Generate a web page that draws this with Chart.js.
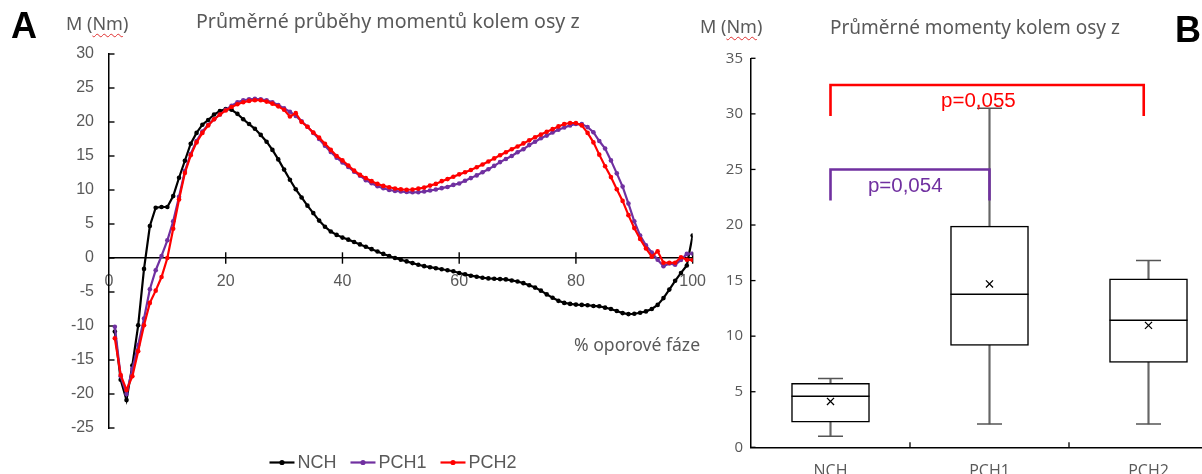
<!DOCTYPE html>
<html lang="cs">
<head>
<meta charset="utf-8">
<title>Momenty kolem osy z</title>
<script src="https://cdn.jsdelivr.net/npm/chart.js@4.4.1/dist/chart.umd.min.js"></script>
<style>
html,body{margin:0;padding:0;background:#fff;overflow:hidden;}
#page{position:relative;width:1202px;height:474px;overflow:hidden;background:#fff;}
canvas{position:absolute;top:0;}
#c1{left:0;}
#c2{left:700px;}
.txt{position:absolute;white-space:nowrap;line-height:1;color:#595959;font-family:"Noto Sans",sans-serif;}
.panel{font-family:"Liberation Sans",Arial,sans-serif;font-weight:bold;color:#000;font-size:36px;}
.sq{text-decoration:underline wavy #e03030;text-decoration-thickness:1px;text-underline-offset:3px;}
</style>
</head>
<body>
<div id="page">
<canvas id="c1" width="720" height="474"></canvas>
<canvas id="c2" width="600" height="495"></canvas>
<div class="txt panel" style="left:11px;top:8px;">A</div>
<div class="txt panel" style="left:1175px;top:12px;">B</div>
<div class="txt" style="left:66px;top:14px;font-size:18px;">M (<span class="sq">Nm</span>)</div>
<div class="txt" style="left:196px;top:11px;font-size:19.6px;">Průměrné průběhy momentů kolem osy z</div>
<div class="txt" style="left:574px;top:336px;font-size:17.6px;">% oporové fáze</div>
<div class="txt" style="left:700px;top:17px;font-size:18px;">M (<span class="sq">Nm</span>)</div>
<div class="txt" style="left:830px;top:18px;font-size:19px;">Průměrné momenty kolem osy z</div>
</div>
<script>
// ---------- Panel A data ----------
const stancePct = [1,2,3,4,5,6,7,8,9,10,11,12,13,14,15,16,17,18,19,20,21,22,23,24,25,26,27,28,29,30,31,32,33,34,35,36,37,38,39,40,41,42,43,44,45,46,47,48,49,50,51,52,53,54,55,56,57,58,59,60,61,62,63,64,65,66,67,68,69,70,71,72,73,74,75,76,77,78,79,80,81,82,83,84,85,86,87,88,89,90,91,92,93,94,95,96,97,98,99,100];
const nch = [-10.8,-17.9,-20.9,-15.8,-9.9,-1.6,4.7,7.4,7.5,7.5,
  9.1,11.8,14.3,16.8,18.4,19.6,20.3,21.1,21.6,21.9,
  21.8,21.2,20.4,19.7,19.0,18.1,17.1,15.9,14.5,13.0,
  11.5,10.1,8.9,7.7,6.6,5.5,4.6,3.9,3.4,3.0,
  2.7,2.35,2.0,1.65,1.3,0.95,0.6,0.3,0.0,-0.25,
  -0.5,-0.75,-1.0,-1.2,-1.35,-1.5,-1.65,-1.8,-1.95,-2.2,
  -2.4,-2.6,-2.75,-2.9,-3.0,-3.05,-3.1,-3.15,-3.3,-3.45,
  -3.7,-4.0,-4.35,-4.8,-5.35,-5.85,-6.3,-6.6,-6.75,-6.85,
  -6.9,-6.95,-7.05,-7.1,-7.3,-7.5,-7.8,-8.1,-8.25,-8.2,
  -8.05,-7.85,-7.5,-6.9,-5.9,-4.65,-3.35,-2.2,-1.1,3.3];
const pch1 = [-10.1,-17.4,-20.0,-16.3,-12.8,-8.9,-4.6,-1.8,0.3,2.6,
  5.4,9.0,12.8,15.3,17.2,18.6,19.6,20.4,21.1,21.8,
  22.4,22.9,23.2,23.35,23.4,23.35,23.2,22.9,22.5,22.0,
  21.5,20.9,20.1,19.3,18.4,17.5,16.5,15.6,14.75,14.05,
  13.4,12.7,12.1,11.45,11.0,10.55,10.25,10.0,9.87,9.78,
  9.7,9.66,9.68,9.78,9.92,10.07,10.27,10.45,10.75,10.95,
  11.35,11.75,12.15,12.6,13.05,13.55,14.1,14.55,15.0,15.55,
  16.0,16.6,17.1,17.6,18.0,18.45,18.85,19.2,19.5,19.7,
  19.7,19.25,18.5,17.2,16.1,14.35,12.45,10.5,8.0,5.4,
  3.3,1.85,0.8,-0.25,-1.2,-0.8,-1.0,-0.3,0.6,0.65];
const pch2 = [-11.8,-17.2,-19.4,-17.4,-13.7,-9.9,-6.6,-4.8,-2.8,0.0,
  4.3,8.6,12.5,15.1,17.0,18.4,19.5,20.4,21.1,21.7,
  22.2,22.6,22.9,23.1,23.2,23.2,23.0,22.7,22.3,21.8,
  20.8,21.3,20.0,19.3,18.45,17.7,16.8,15.9,15.0,14.35,
  13.6,12.85,12.25,11.75,11.3,10.9,10.6,10.4,10.22,10.1,
  10.04,10.07,10.2,10.35,10.65,10.9,11.3,11.6,11.95,12.3,
  12.6,12.95,13.35,13.75,14.2,14.65,15.1,15.55,16.0,16.4,
  16.85,17.3,17.75,18.15,18.55,18.95,19.35,19.7,19.85,19.85,
  19.5,18.4,17.0,15.2,13.5,11.9,10.1,8.4,6.3,4.4,
  2.8,1.4,0.2,1.0,-0.7,-0.7,-0.7,0.1,-0.25,-0.3];
const seriesNames = ['NCH','PCH1','PCH2'];
const seriesColors = ['#000000','#7030a0','#ff0000'];
const xTickValuesA = [0,20,40,60,80,100];
const yRangeA = [-25,30];

// ---------- Panel B data ----------
const groups = ['NCH','PCH1','PCH2'];
const whiskerMin = [1.0,2.1,2.1];
const q1 = [2.25,9.17,7.64];
const median = [4.6,13.76,11.42];
const q3 = [5.75,19.9,15.16];
const whiskerMax = [6.2,30.5,16.8];
const mean = [4.13,14.7,10.97];
const yRangeB = [0,35];
const bracketFrom = [0,0];
const bracketTo = [1,1.97];
const bracketTop = [25.0,32.6];
const bracketLeg = [22.2,29.8];
const bracketText = ['p=0,054','p=0,055'];
const bracketTextX = [0.47,0.93];
const bracketTextY = [23.5,31.1];
const bracketColors = ['#7030a0','#ff0000'];

const GRAY = '#595959';
const ARIAL = '"Liberation Sans", Arial, sans-serif';
Chart.defaults.font.family = ARIAL;

function fitChartArea(chart, pad, target){
  for (let k=0;k<6;k++){
    const a = chart.chartArea;
    const dl = target.left - a.left, dt = target.top - a.top, dr = a.right - target.right, db = a.bottom - target.bottom;
    if (Math.abs(dl)+Math.abs(dt)+Math.abs(dr)+Math.abs(db) < 0.3) break;
    pad.left += dl; pad.top += dt; pad.right += dr; pad.bottom += db;
    chart.update('none');
  }
}

// ---------- Chart A ----------
const marksA = {
  id:'marksA',
  beforeDatasetsDraw(chart){
    const {ctx, chartArea:a, scales:{x,y}} = chart;
    ctx.save();
    ctx.strokeStyle = '#000'; ctx.lineWidth = 1.4;
    y.ticks.forEach(t=>{
      const py = y.getPixelForValue(t.value);
      ctx.beginPath(); ctx.moveTo(a.left, py); ctx.lineTo(a.left+5.5, py); ctx.stroke();
    });
    const y0 = y.getPixelForValue(0);
    x.ticks.forEach(t=>{
      if (t.value === 0) return;
      const px = x.getPixelForValue(t.value);
      ctx.beginPath(); ctx.moveTo(px, y0-5.7); ctx.lineTo(px, y0+5.7); ctx.stroke();
    });
    ctx.restore();
  },
  afterDraw(chart){
    const ctx = chart.ctx;
    ctx.save();
    ctx.font = '18px ' + ARIAL;
    const items = chart.data.datasets.map(d=>({label:d.label, color:d.borderColor, w:ctx.measureText(d.label).width}));
    const lineLen = 25, gapA = 3, gapB = 14;
    const total = items.reduce((s,it)=>s+lineLen+gapA+it.w,0) + gapB*(items.length-1);
    let xx = 393 - total/2;
    const yy = 462.5;
    items.forEach(it=>{
      ctx.strokeStyle = it.color; ctx.lineWidth = 2.2;
      ctx.beginPath(); ctx.moveTo(xx, yy); ctx.lineTo(xx+lineLen, yy); ctx.stroke();
      ctx.fillStyle = it.color;
      ctx.beginPath(); ctx.arc(xx+lineLen/2, yy, 2.6, 0, Math.PI*2); ctx.fill();
      ctx.fillStyle = GRAY; ctx.textBaseline = 'alphabetic'; ctx.textAlign = 'left';
      ctx.fillText(it.label, xx+lineLen+gapA, yy+5.8);
      xx += lineLen + gapA + it.w + gapB;
    });
    ctx.restore();
  }
};

const padA = {left:0, top:54, right:14, bottom:36};
const seriesData = [nch, pch1, pch2];
const chartA = new Chart(document.getElementById('c1'), {
  type:'line',
  data:{
    datasets: seriesNames.map((name,i)=>({
      label:name,
      data: stancePct.map((p,j)=>({x:p, y:seriesData[i][j]})),
      borderColor: seriesColors[i],
      backgroundColor: seriesColors[i],
      pointBackgroundColor: seriesColors[i],
      pointBorderWidth: 0,
      pointRadius: 2.3,
      borderWidth: 2.2,
      tension: 0,
      fill:false,
      order: 2 - i
    }))
  },
  options:{
    responsive:false, animation:false,
    layout:{padding:padA},
    plugins:{legend:{display:false}, tooltip:{enabled:false}},
    scales:{
      x:{
        type:'linear', min:xTickValuesA[0], max:xTickValuesA[xTickValuesA.length-1],
        position:{y:0},
        afterBuildTicks(s){ s.ticks = xTickValuesA.map(v=>({value:v})); },
        ticks:{color:GRAY, font:{size:16}, padding:14, maxRotation:0, autoSkip:false, callback:v=>String(v)},
        grid:{display:false, drawTicks:false},
        border:{display:true, color:'#000', width:1.5}
      },
      y:{
        min:yRangeA[0], max:yRangeA[1],
        ticks:{stepSize:5, color:GRAY, font:{size:16}, padding:15, callback:v=>String(v)},
        grid:{display:false, drawTicks:false},
        border:{display:true, color:'#000', width:1.5},
        afterFit(s){ s.width = 109; }
      }
    }
  },
  plugins:[marksA]
});
fitChartArea(chartA, padA, {left:109, top:54, right:692, bottom:428});

// ---------- Chart B ----------
const marksB = {
  id:'marksB',
  afterDatasetsDraw(chart){
    const {ctx, chartArea:a, scales:{x,y}} = chart;
    ctx.save();
    ctx.strokeStyle = '#000'; ctx.lineWidth = 1.3;
    y.ticks.forEach(t=>{
      const py = y.getPixelForValue(t.value);
      ctx.beginPath(); ctx.moveTo(a.left, py); ctx.lineTo(a.left+4.5, py); ctx.stroke();
    });
    for (let i=0;i<groups.length-1;i++){
      const px = x.getPixelForValue(i+0.5);
      ctx.beginPath(); ctx.moveTo(px, a.bottom); ctx.lineTo(px, a.bottom-5); ctx.stroke();
    }
    for (let k=0;k<bracketText.length;k++){
      const xf = x.getPixelForValue(bracketFrom[k]), xt = x.getPixelForValue(bracketTo[k]);
      const yt = y.getPixelForValue(bracketTop[k]), yl = y.getPixelForValue(bracketLeg[k]);
      ctx.strokeStyle = bracketColors[k]; ctx.lineWidth = 2.6; ctx.lineJoin = 'miter';
      ctx.beginPath(); ctx.moveTo(xf, yl); ctx.lineTo(xf, yt); ctx.lineTo(xt, yt); ctx.lineTo(xt, yl); ctx.stroke();
      ctx.fillStyle = bracketColors[k];
      ctx.font = '20.5px ' + ARIAL; ctx.textAlign = 'center'; ctx.textBaseline = 'middle';
      ctx.fillText(bracketText[k], x.getPixelForValue(bracketTextX[k]), y.getPixelForValue(bracketTextY[k]));
    }
    ctx.restore();
  }
};

const padB = {left:0, top:58, right:72, bottom:18};
const chartB = new Chart(document.getElementById('c2'), {
  type:'bar',
  data:{
    labels: groups,
    datasets:[
      {type:'bar', label:'whisker', data: groups.map((_,i)=>[whiskerMin[i], whiskerMax[i]]),
       backgroundColor:'#666666', borderWidth:0, barThickness:1.5, grouped:false, order:4},
      {type:'bar', label:'box', data: groups.map((_,i)=>[q1[i], q3[i]]),
       backgroundColor:'#ffffff', borderColor:'#000000', borderWidth:1.5, borderSkipped:false,
       barThickness:78, grouped:false, order:2},
      {type:'line', label:'max', data: whiskerMax, showLine:false, pointStyle:'line', pointRadius:12.5,
       pointBorderColor:'#555555', pointBorderWidth:1.5, order:3},
      {type:'line', label:'min', data: whiskerMin, showLine:false, pointStyle:'line', pointRadius:12.5,
       pointBorderColor:'#555555', pointBorderWidth:1.5, order:3},
      {type:'line', label:'median', data: median, showLine:false, pointStyle:'line', pointRadius:39,
       pointBorderColor:'#000000', pointBorderWidth:1.5, order:1},
      {type:'line', label:'mean', data: mean, showLine:false, pointStyle:'crossRot', pointRadius:5,
       pointBorderColor:'#000000', pointBorderWidth:1.3, order:0}
    ]
  },
  options:{
    responsive:false, animation:false,
    layout:{padding:padB},
    plugins:{legend:{display:false}, tooltip:{enabled:false}},
    scales:{
      x:{
        offset:true,
        ticks:{color:GRAY, font:{family:'"Open Sans", sans-serif', size:16}, padding:15, maxRotation:0},
        grid:{display:false, drawTicks:false},
        border:{display:true, color:'#000', width:1.5},
        afterFit(s){ s.height = 30; }
      },
      y:{
        min:yRangeB[0], max:yRangeB[1],
        ticks:{stepSize:5, color:GRAY, font:{family:'"Open Sans", sans-serif', size:15}, padding:8},
        grid:{display:false, drawTicks:false},
        border:{display:true, color:'#000', width:1.5},
        afterFit(s){ s.width = 51; }
      }
    }
  },
  plugins:[marksB]
});
fitChartArea(chartB, padB, {left:51, top:58.3, right:528, bottom:447.3});
</script>
</body>
</html>
